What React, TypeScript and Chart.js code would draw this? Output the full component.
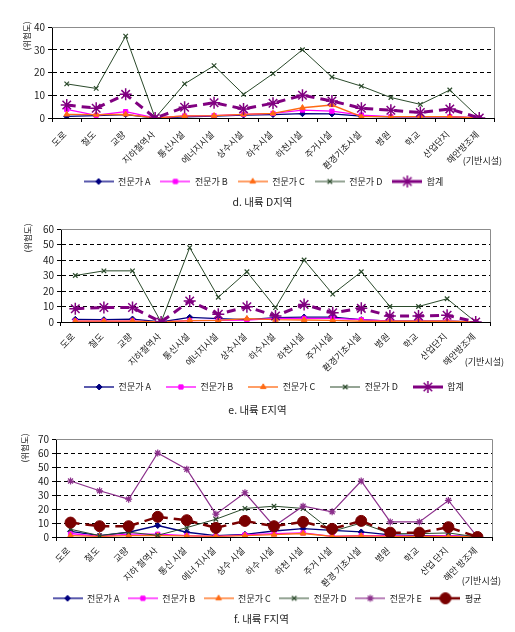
import React, { useEffect, useRef } from "react";
import { Chart, registerables } from "chart.js";
import { drawPoint } from "chart.js/helpers";
Chart.register(...registerables);

const FONT = "'Noto Sans CJK KR', 'Noto Sans', sans-serif";
const TEXT = "#222";

// ---------- data ----------
const categoriesDE = ["도로", "철도", "교량", "지하철역사", "통신시설", "에너지시설", "상수시설", "하수시설", "하천시설", "주거시설", "환경기초시설", "병원", "학교", "산업단지", "해안방조제"];
const categoriesF = ["도로", "철도", "교량", "지하 철역사", "통신 시설", "에너 지시설", "상수 시설", "하수 시설", "하천 시설", "주거 시설", "환경 기초시설", "병원", "학교", "산업 단지", "해안 방조제"];

// d. 내륙 D지역
const dA = [0.7, 1, 1.5, 0, 0.5, 0.8, 1.3, 1.5, 1.9, 1.8, 0.8, 0.5, 0.5, 0.5, 0];
const dB = [3.8, 1.2, 2.8, 0, 0.9, 1, 1.6, 2, 3.5, 3, 1.3, 0.6, 0.6, 0.6, 0];
const dC = [1.6, 1.5, 1.6, 0, 0.9, 1, 1.6, 2, 4.5, 5.7, 0.6, 0.6, 0.6, 0.6, 0];
const dD = [15, 13, 36, 0, 15, 23, 10.4, 19.5, 30, 18, 14, 9, 6, 12.3, 0];
const dSum = [5.7, 4.3, 10.4, 0, 4.7, 6.7, 4, 6.5, 10, 7.5, 4.3, 3.4, 2.4, 4, 0];

// e. 내륙 E지역
const eA = [1.7, 1.5, 1.9, 0, 3, 2.2, 1.5, 2.8, 3.2, 3.2, 1.5, 0.5, 0.5, 0.5, 0];
const eB = [0.6, 0.5, 0.6, 0, 0.9, 1, 1.2, 2.4, 2.4, 2.4, 1.5, 0.5, 0.5, 0.5, 0];
const eC = [0.6, 0.5, 0.6, 0, 0.9, 1, 2.2, 1.5, 1.3, 1, 0.5, 0.5, 0.5, 0.5, 0];
const eD = [30, 33, 33, 0, 48, 16, 32.4, 9.3, 40, 18, 32.4, 10, 10, 15, 0];
const eSum = [8.6, 9.3, 9.3, 0, 13.5, 5, 9.8, 3.9, 11.3, 6, 8.8, 3.9, 3.9, 4.3, 0];

// f. 내륙 F지역
const fA = [4, 1, 3.4, 8.2, 3.4, 1, 1.9, 4.3, 6, 4.8, 3.6, 1.5, 1, 1, 0];
const fB = [2.5, 0.5, 2, 2, 1, 0.5, 1.5, 2.4, 2.9, 0.5, 1, 1, 0.5, 1, 0];
const fC = [1, 0.5, 1, 1, 0.8, 0.5, 1, 1.7, 2.5, 0.5, 0.8, 0.5, 0.5, 0.5, 0];
const fD = [5.5, 1, 3.4, 1.2, 6.7, 12.7, 20.4, 22, 20.4, 4, 10, 2.4, 2.4, 2.9, 0];
const fE = [40, 33, 27, 60, 48.4, 16.3, 31.6, 7.7, 22, 18, 40, 10.8, 10.8, 26.1, 0];
const fAvg = [10.3, 7.7, 7.7, 14.4, 12, 6.5, 11.5, 7.7, 10.8, 5.8, 11.5, 3.1, 3.1, 7, 0];

const seriesNames = ["전문가 A", "전문가 B", "전문가 C", "전문가 D", "전문가 E"];
const sumName = "합계";
const avgName = "평균";

// ---------- styles ----------
const NAVY = "#000080";
const MAGENTA = "#FF00FF";
const ORANGE = "#FF6A13";
const GREEN = "#2B4A2B";
const PURPLE = "#800080";
const PURPLE_E = "#8B2F8B";
const MAROON = "#7A0000";

type Series = {
  label: string;
  data: number[];
  color: string;
  style: string;
  radius: number;
  width: number;
  dash?: number[];
  pointBorder?: number;
};

const styleA = { color: NAVY, style: "rectRot", radius: 3, width: 1.3 };
const styleB = { color: MAGENTA, style: "rect", radius: 3, width: 1.3 };
const styleC = { color: ORANGE, style: "triangle", radius: 3.2, width: 1.3 };
const styleD = { color: GREEN, style: "crossRot", radius: 3.2, width: 1, pointBorder: 1.2 };
const styleSum = { color: PURPLE, style: "star", radius: 6, width: 3, dash: [9, 6], pointBorder: 1.5 };
const styleE = { color: PURPLE_E, style: "star", radius: 3.5, width: 1.2, pointBorder: 1.2 };
const styleAvg = { color: MAROON, style: "circle", radius: 5.5, width: 2.5, dash: [9, 6] };

type Spec = {
  labels: string[];
  series: Series[];
  yMax: number;
  h: number;
  padTop: number;
  padRight: number;
  padLeft: number;
  padBottom: number;
  yWidth: number;
  xHeight: number;
  xTickPad: number;
  legendPad: number;
  title: string;
  titlePos: [number, number];
  yTitle: [number, number];
  xTitle: [number, number];
};

function makeIcon(s: Series): HTMLCanvasElement {
  const c = document.createElement("canvas");
  c.width = 30;
  c.height = 14;
  const ctx = c.getContext("2d")!;
  ctx.strokeStyle = s.color;
  ctx.lineWidth = s.width;
  ctx.beginPath();
  ctx.moveTo(0, 7);
  ctx.lineTo(30, 7);
  ctx.stroke();
  ctx.fillStyle = s.color;
  ctx.strokeStyle = s.color;
  ctx.lineWidth = s.pointBorder ?? 1;
  drawPoint(ctx, { pointStyle: s.style as any, radius: s.radius, rotation: 0, borderWidth: s.pointBorder ?? 1 } as any, 15, 7);
  return c;
}

function decorPlugin(spec: Spec) {
  return {
    id: "decor",
    beforeDatasetsDraw(chart: any) {
      const { ctx, chartArea: a } = chart;
      ctx.save();
      ctx.strokeStyle = "#8c8c8c";
      ctx.lineWidth = 1;
      ctx.beginPath();
      ctx.moveTo(a.left, Math.round(a.top) + 0.5);
      ctx.lineTo(Math.round(a.right) + 0.5, Math.round(a.top) + 0.5);
      ctx.lineTo(Math.round(a.right) + 0.5, a.bottom);
      ctx.stroke();
      ctx.restore();
    },
    afterDraw(chart: any) {
      const ctx = chart.ctx;
      ctx.save();
      ctx.fillStyle = TEXT;
      ctx.font = `8.5px ${FONT}`;
      ctx.translate(spec.yTitle[0], spec.yTitle[1]);
      ctx.rotate(-Math.PI / 2);
      ctx.textAlign = "center";
      ctx.textBaseline = "middle";
      ctx.fillText("(위험도)", 0, 0);
      ctx.restore();

      ctx.save();
      ctx.fillStyle = TEXT;
      ctx.font = `9px ${FONT}`;
      ctx.textAlign = "right";
      ctx.textBaseline = "middle";
      ctx.fillText("(기반시설)", spec.xTitle[0], spec.xTitle[1]);
      ctx.restore();

      ctx.save();
      ctx.fillStyle = TEXT;
      ctx.font = `10.5px ${FONT}`;
      ctx.textAlign = "center";
      ctx.textBaseline = "middle";
      ctx.fillText(spec.title, spec.titlePos[0], spec.titlePos[1]);
      ctx.restore();
    },
  };
}

function buildConfig(spec: Spec): any {
  const n = spec.series.length;
  const icons = spec.series.map(makeIcon);
  return {
    type: "line",
    data: {
      labels: spec.labels,
      datasets: spec.series.map((s, i) => ({
        label: s.label,
        data: s.data,
        borderColor: s.color,
        backgroundColor: s.color,
        borderWidth: s.width,
        borderDash: s.dash || [],
        pointStyle: s.style,
        pointRadius: s.radius,
        pointBorderWidth: s.pointBorder ?? 1,
        pointBackgroundColor: s.color,
        pointBorderColor: s.color,
        tension: 0,
        fill: false,
        order: n - i,
      })),
    },
    options: {
      responsive: false,
      animation: false,
      devicePixelRatio: 1,
      events: [],
      layout: { padding: { top: spec.padTop, right: spec.padRight, left: spec.padLeft, bottom: spec.padBottom } },
      scales: {
        x: {
          offset: true,
          afterFit: (scale: any) => {
            scale.height = spec.xHeight;
            scale._computeLabelArea = () => null;
          },
          grid: {
            display: true,
            drawOnChartArea: false,
            drawTicks: true,
            tickLength: 4,
            tickColor: "#000",
            color: "#000",
            offset: true,
          },
          border: { display: true, color: "#000", width: 1 },
          ticks: {
            autoSkip: false,
            minRotation: 45,
            maxRotation: 45,
            padding: spec.xTickPad,
            labelOffset: -2,
            color: TEXT,
            font: { size: 9, family: FONT },
          },
        },
        y: {
          min: 0,
          max: spec.yMax,
          afterFit: (scale: any) => {
            scale.width = spec.yWidth;
            scale._computeLabelArea = () => null;
          },
          grid: {
            color: (ctx: any) =>
              ctx.tick && (ctx.tick.value === 0 || ctx.tick.value === spec.yMax) ? "rgba(0,0,0,0)" : "#000",
            tickColor: "#000",
            tickLength: 4,
            lineWidth: 1,
          },
          border: { display: true, color: "#000", width: 1, dash: [4, 3] },
          ticks: {
            stepSize: 10,
            autoSkip: false,
            padding: 3,
            color: TEXT,
            font: { size: 10, family: FONT },
          },
        },
      },
      plugins: {
        tooltip: { enabled: false },
        title: { display: false },
        legend: {
          display: true,
          position: "bottom",
          labels: {
            usePointStyle: true,
            pointStyleWidth: 30,
            padding: spec.legendPad,
            color: TEXT,
            font: { size: 9, family: FONT },
            generateLabels: (chart: any) =>
              chart.data.datasets.map((ds: any, i: number) => ({
                text: ds.label,
                pointStyle: icons[i],
                datasetIndex: i,
                hidden: false,
                lineWidth: 0,
                strokeStyle: "rgba(0,0,0,0)",
                fillStyle: "rgba(0,0,0,0)",
                fontColor: TEXT,
              })),
          },
        },
      },
    },
    plugins: [decorPlugin(spec)],
  };
}

const specD: Spec = {
  labels: categoriesDE,
  series: [
    { label: seriesNames[0], data: dA, ...styleA },
    { label: seriesNames[1], data: dB, ...styleB },
    { label: seriesNames[2], data: dC, ...styleC },
    { label: seriesNames[3], data: dD, ...styleD },
    { label: sumName, data: dSum, ...styleSum },
  ],
  yMax: 40,
  h: 212,
  padTop: 27,
  padRight: 21,
  padLeft: 33,
  padBottom: 16,
  yWidth: 19,
  xHeight: 49,
  xTickPad: 7,
  legendPad: 10,
  title: "d. 내륙 D지역",
  titlePos: [262.5, 202.5],
  yTitle: [27, 36],
  xTitle: [502, 161],
};

const specE: Spec = {
  labels: categoriesDE,
  series: [
    { label: seriesNames[0], data: eA, ...styleA },
    { label: seriesNames[1], data: eB, ...styleB },
    { label: seriesNames[2], data: eC, ...styleC },
    { label: seriesNames[3], data: eD, ...styleD },
    { label: sumName, data: eSum, ...styleSum },
  ],
  yMax: 60,
  h: 210,
  padTop: 17,
  padRight: 25,
  padLeft: 58,
  padBottom: 20.5,
  yWidth: 3,
  xHeight: 45.5,
  xTickPad: 5,
  legendPad: 15,
  title: "e. 내륙 E지역",
  titlePos: [257.5, 198.5],
  yTitle: [27.5, 26],
  xTitle: [504, 150],
};

const specF: Spec = {
  labels: categoriesF,
  series: [
    { label: seriesNames[0], data: fA, ...styleA },
    { label: seriesNames[1], data: fB, ...styleB },
    { label: seriesNames[2], data: fC, ...styleC },
    { label: seriesNames[3], data: fD, ...styleD },
    { label: seriesNames[4], data: fE, ...styleE },
    { label: avgName, data: fAvg, ...styleAvg },
  ],
  yMax: 70,
  h: 210,
  padTop: 17,
  padRight: 23,
  padLeft: 42,
  padBottom: 19.2,
  yWidth: 14,
  xHeight: 48.3,
  xTickPad: 4,
  legendPad: 8.5,
  title: "f. 내륙 F지역",
  titlePos: [261.5, 197.3],
  yTitle: [24.5, 26],
  xTitle: [501, 159],
};

function LineChart({ spec }: { spec: Spec }) {
  const ref = useRef<HTMLCanvasElement>(null);
  useEffect(() => {
    const chart = new Chart(ref.current!, buildConfig(spec));
    return () => chart.destroy();
  }, [spec]);
  return (
    <canvas
      ref={ref}
      width={515}
      height={spec.h}
      style={{ display: "block", width: 515, height: spec.h }}
    />
  );
}

export default function App() {
  return (
    <div style={{ position: "absolute", left: 0, top: 0, width: 515, background: "#fff" }}>
      <LineChart spec={specD} />
      <LineChart spec={specE} />
      <LineChart spec={specF} />
    </div>
  );
}
